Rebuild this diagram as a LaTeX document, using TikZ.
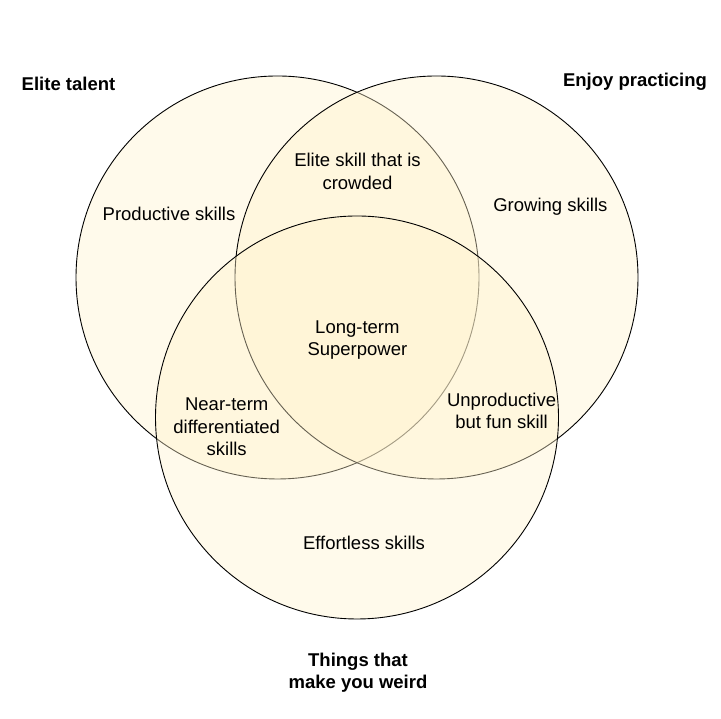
\documentclass[tikz,border=0pt]{standalone}
\usepackage{fontspec}
\setmainfont{Liberation Sans}
\usepackage{tikz}
\definecolor{setfill}{HTML}{FFF2CC}

\begin{document}
\begin{tikzpicture}[x=1pt,y=1pt,
      every node/.style={align=center,inner sep=0pt,font=\fontsize{18.5}{22.2}\selectfont},
      skillset/.style={circle,minimum size=403pt,draw=black,line width=0.9pt,fill=setfill,fill opacity=0.4,draw opacity=1},
      setname/.style={font=\fontsize{18.5}{22.2}\selectfont\bfseries}]
    \useasboundingbox (0,0) rectangle (721,719);
    \node[skillset] (talent) at (277.5,441.5) {};
    \node[skillset] (enjoy) at (436.5,441.5) {};
    \node[skillset] (weird) at (357,301.5) {};
    \node[setname,anchor=base] (talentname) at (68.5,628) {Elite talent};
    \node[setname,anchor=base] (enjoyname) at (635,632.3) {Enjoy practicing};
    \node[setname] (weirdname) at (358,46) {Things that\\make you weird};
    \node[anchor=base] (productive) at (169,498.6) {Productive skills};
    \node (crowded) at (357.5,547.6) {Elite skill that is\\crowded};
    \node[anchor=base] (growing) at (550.4,507) {Growing skills};
    \node (superpower) at (357.4,378.7) {Long-term\\Superpower};
    \node (nearterm) at (226.7,292.2) {Near-term\\differentiated\\skills};
    \node (fun) at (501.6,308.4) {Unproductive\\but fun skill};
    \node[anchor=base] (effortless) at (364,169.4) {Effortless skills};
  \end{tikzpicture}
\end{document}
